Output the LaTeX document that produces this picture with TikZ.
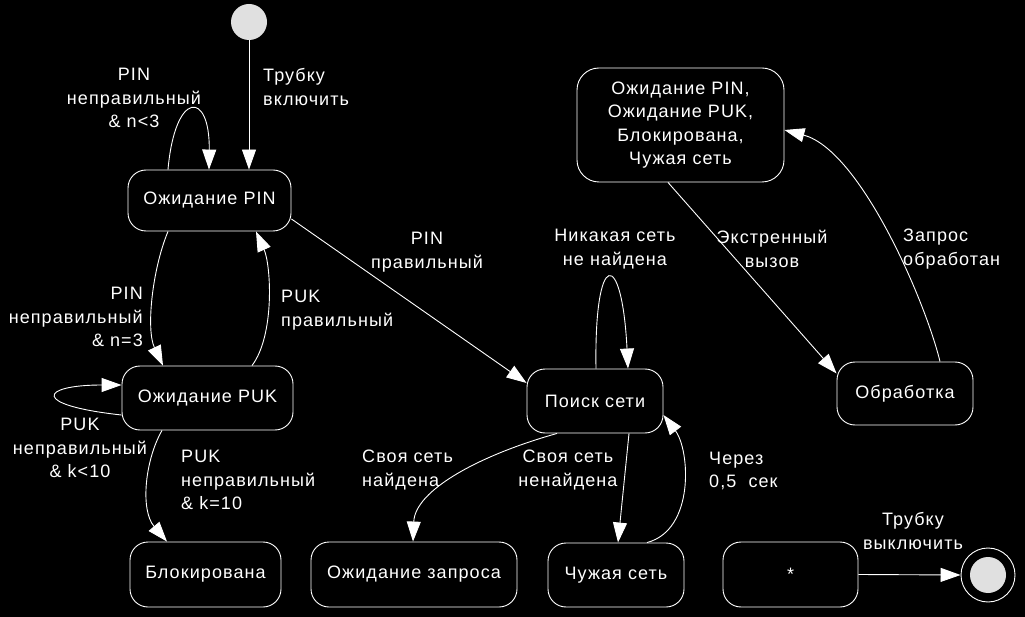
\documentclass[tikz,border=0pt]{standalone}
\usepackage{fontspec}
\setmainfont{Liberation Sans}[LetterSpace=6]
\usetikzlibrary{arrows.meta,calc}
\definecolor{lightdot}{HTML}{E0E0E0}
\begin{document}
\begin{tikzpicture}[x=1pt,y=-1pt,
  every node/.style={font=\fontsize{18}{23.5}\selectfont, text=white},
  state/.style={draw=white, line width=0.9pt, rounded corners=18pt, fill=black, align=center, inner sep=0pt},
  lbl/.style={inner sep=0pt},
  conn/.style={draw=white, line width=0.9pt, -{Triangle[length=20pt,width=14pt]}}]
\fill[black] (0,0) rectangle (1025,617);
\useasboundingbox (0,0) rectangle (1025,617);

% states
\node[circle, fill=lightdot, minimum size=36pt, inner sep=0pt] (init) at (249,22) {};
\node[state, minimum width=163pt, minimum height=61pt] (pin) at (209.5,200.5) {Ожидание PIN};
\node[state, minimum width=171pt, minimum height=64pt] (puk) at (207.5,398) {Ожидание PUK};
\node[state, minimum width=151pt, minimum height=65pt] (blk) at (205.5,574.5) {Блокирована};
\node[state, minimum width=206pt, minimum height=65pt] (wreq) at (414,574.5) {Ожидание запроса};
\node[state, minimum width=136pt, minimum height=64pt] (foreign) at (616,575) {Чужая сеть};
\node[state, minimum width=136pt, minimum height=64pt] (search) at (595,401) {Поиск сети};
\node[state, minimum width=207pt, minimum height=114pt, rounded corners=22pt] (big) at (680.5,125) {Ожидание PIN,\\Ожидание PUK,\\Блокирована,\\Чужая сеть};
\node[state, minimum width=136pt, minimum height=63pt] (proc) at (905,393.5) {Обработка};
\node[state, minimum width=135pt, minimum height=65pt] (star) at (790.5,574.5) {*};
\node[circle, draw=white, line width=0.9pt, fill=black, minimum size=54pt, inner sep=0pt] (final) at (988,575) {};
\node[circle, fill=lightdot, minimum size=36pt, inner sep=0pt] (finalin) at (final.center) {};

% connectors
\draw[conn] (init.south) -- ($(pin.north)+(39.5,0)$);
\draw[conn] ($(pin.north)+(-41.5,0)$) .. controls (175,90) and (210,90) .. ($(pin.north)+(-0.5,0)$);
\draw[conn] ($(pin.south)+(-41.5,0)$) .. controls (152,270) and (146,330) .. ($(puk.north)+(-44.5,0)$);
\draw[conn] ($(puk.north)+(44.5,0)$) .. controls (275,335) and (271,265) .. ($(pin.south)+(46.5,0)$);
\draw[conn] ($(puk.west)+(0,17)$) .. controls (30,405) and (40,385) .. ($(puk.west)+(0,-13)$);
\draw[conn] ($(puk.south)+(-45.5,0)$) .. controls (145,460) and (140,510) .. ($(blk.north)+(-38.5,0)$);
\draw[conn] ($(pin.east)+(0,18.5)$) -- ($(search.west)+(0,-18)$);
\draw[conn] ($(search.north)+(1,0)$) .. controls (594,248) and (622,248) .. ($(search.north)+(33,0)$);
\draw[conn] ($(search.south)+(-38,0)$) .. controls (480,455) and (415,490) .. ($(wreq.north)+(-1,0)$);
\draw[conn] ($(search.south)+(34,0)$) -- ($(foreign.north)+(2,0)$);
\draw[conn] ($(foreign.north)+(31,0)$) .. controls (695,530) and (690,450) .. ($(search.east)+(0,14)$);
\draw[conn] ($(big.south)+(-12.5,0)$) -- ($(proc.west)+(0,-20)$);
\draw[conn] ($(proc.north)+(35,0)$) .. controls (925,300) and (860,150) .. ($(big.east)+(0,5)$);
\draw[conn] (star.east) -- (final.west);

% labels
\node[lbl, anchor=west, align=left] (l1) at (263,87) {Трубку\\включить};
\node[lbl, align=center] (l2) at (134,98) {PIN\\неправильный\\\& n<3};
\node[lbl, anchor=east, align=right] (l3) at (143,317) {PIN\\неправильный\\\& n=3};
\node[lbl, anchor=west, align=left] (l4) at (281,310) {PUK\\правильный};
\node[lbl, align=center] (l5) at (80,448) {PUK\\неправильный\\\& k<10};
\node[lbl, anchor=west, align=left] (l6) at (181,480) {PUK\\неправильный\\\& k=10};
\node[lbl, align=center] (l7) at (427,252) {PIN\\правильный};
\node[lbl, align=center] (l8) at (615,249) {Никакая сеть\\не найдена};
\node[lbl, anchor=west, align=left] (l9) at (362,470) {Своя сеть\\найдена};
\node[lbl, align=center] (l10) at (568,470) {Своя сеть\\ненайдена};
\node[lbl, anchor=west, align=left] (l11) at (709,471) {Через\\0,5~ сек};
\node[lbl, align=center] (l12) at (772,249) {Экстренный\\вызов};
\node[lbl, anchor=west, align=left] (l13) at (903,249) {Запрос\\обработан};
\node[lbl, align=center] (l14) at (913,531) {Трубку\\выключить};
\end{tikzpicture}
\end{document}
